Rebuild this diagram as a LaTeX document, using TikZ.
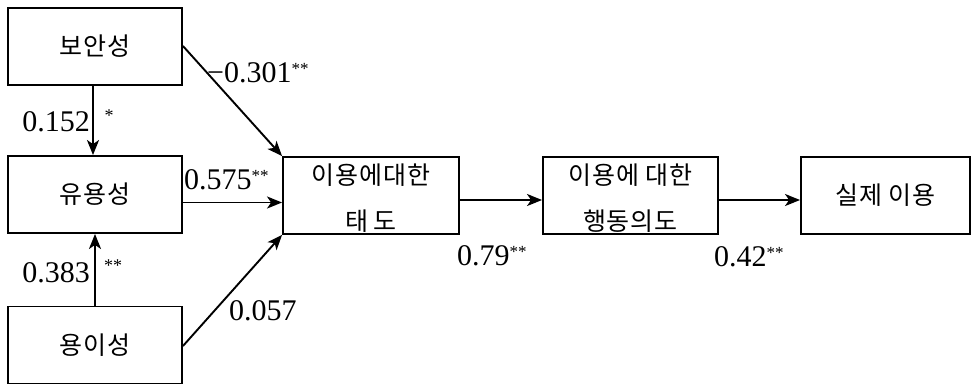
\documentclass[tikz,border=0pt]{standalone}
\usepackage{fontspec}
\setmainfont{Liberation Serif}
\newfontfamily\kr[LetterSpace=4]{Noto Sans CJK KR}
\usetikzlibrary{arrows.meta}
\begin{document}
\begin{tikzpicture}[x=1pt,y=-1pt,
  box/.style={draw, line width=1.9pt, minimum height=77pt, inner sep=0pt, align=center,
    font=\kr\fontsize{25}{46}\selectfont},
  txt/.style={inner sep=0pt, align=center, font=\kr\fontsize{25}{45.5}\selectfont},
  arr/.style={line width=1.9pt, -{Stealth[length=15pt,width=12pt,inset=4pt]}},
  coef/.style={inner sep=0pt, font=\fontsize{30}{30}\selectfont},
  st/.style={inner sep=0pt, font=\fontsize{18}{18}\selectfont}]
\useasboundingbox (0,0) rectangle (973,384);
\node[box, minimum width=174pt] (ban) at (95,46.5) {보안성};
\node[box, minimum width=174pt] (yuy) at (95,194.5) {유용성};
\node[box, minimum width=174pt] (yoi) at (95,345) {용이성};
\node[box, minimum width=176pt] (tae) at (371,195.5) {};
\node[txt] (taet) at (371,198) {이용에대한\\태\,도};
\node[box, minimum width=175pt] (hd) at (630.5,195.5) {};
\node[txt] (hdt) at (630.5,198) {이용에 대한\\행동의도};
\node[box, minimum width=169pt] (sj) at (885.5,195.5) {실제 이용};
% arrows
\draw[arr] ([xshift=-2pt]ban.south) -- ([xshift=-2pt]yuy.north);
\draw[arr] (yoi.north) -- (yuy.south);
\draw[arr] ([yshift=0.5pt]ban.east) -- (tae.north west);
\draw[arr] ([yshift=-8pt]yuy.east) -- ([yshift=-8pt]yuy.east -| tae.west);
\draw[arr] ([yshift=-1pt]yoi.east) -- (tae.south west);
\draw[arr] ([yshift=-4.5pt]tae.east) -- ([yshift=-4.5pt]tae.east -| hd.west);
\draw[arr] ([yshift=-4.5pt]hd.east) -- ([yshift=-4.5pt]hd.east -| sj.west);
% labels
\node[coef, anchor=west] (l1) at (207,73) {−0.301\raisebox{8pt}{\fontsize{17}{17}\selectfont**}};
\node[coef, anchor=east] (l2) at (90,122) {0.152};
\node[st] (s2) at (109,116) {*};
\node[coef, anchor=west] (l3) at (184,180) {0.575\raisebox{8pt}{\fontsize{17}{17}\selectfont**}};
\node[coef, anchor=east] (l4) at (90,273) {0.383};
\node[st] (s4) at (113,266) {**};
\node[coef, anchor=west] (l5) at (229,311) {0.057};
\node[coef, anchor=west] (l6) at (457,256) {0.79\raisebox{8pt}{\fontsize{17}{17}\selectfont**}};
\node[coef, anchor=west] (l7) at (714,257) {0.42\raisebox{8pt}{\fontsize{17}{17}\selectfont**}};
\end{tikzpicture}
\end{document}
